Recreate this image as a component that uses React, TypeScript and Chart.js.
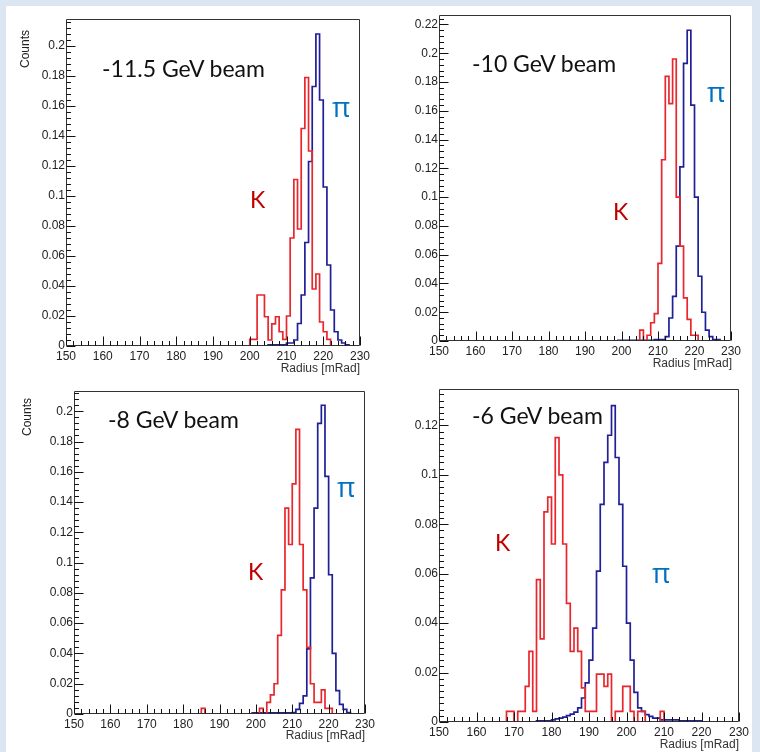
import React, { useEffect, useRef } from "react";
import { Chart, registerables } from "chart.js";

Chart.register(...registerables);

// Radius axis [mRad]: 1 mRad bins from 150 to 230
const X_MIN = 150;
const X_MAX = 230;
const X_MAJOR = 10;
const X_MINOR = 2;
const Y_MAJOR = 0.02;

// -11.5 GeV beam
const k115Start = 200;
const k115 = [0.0044, 0.0044, 0.034, 0.034, 0.0195, 0.004, 0.0147, 0.0195, 0.0095, 0.0044, 0.02, 0.072, 0.111, 0.078, 0.145, 0.179, 0.13, 0.038, 0.048, 0.016, 0.0095, 0.0044];
const pi115Start = 205;
const pi115 = [0.0007, 0.0007, 0.0007, 0.0007, 0.0007, 0.002, 0.002, 0.004, 0.015, 0.034, 0.069, 0.123, 0.173, 0.208, 0.164, 0.106, 0.054, 0.024, 0.0095, 0.004, 0.002, 0.0007];

// -10 GeV beam
const k10Start = 205;
const k10 = [0.0076, 0, 0.004, 0.0127, 0.019, 0.054, 0.126, 0.184, 0.165, 0.196, 0.1, 0.066, 0.03, 0.015, 0.004, 0.004];
const pi10Start = 199;
const pi10 = [0.0005, 0.0005, 0.0005, 0.0005, 0.0005, 0.0005, 0.0005, 0.0005, 0.0005, 0.0005, 0.001, 0.001, 0.001, 0.003, 0.016, 0.031, 0.066, 0.121, 0.193, 0.216, 0.164, 0.1, 0.045, 0.02, 0.0076, 0.003, 0.001, 0.001];

// -8 GeV beam
const k8Start = 185;
const k8 = [0.0037, 0, 0, 0, 0, 0, 0, 0, 0, 0, 0, 0, 0, 0, 0, 0, 0.0037, 0, 0.0077, 0.0126, 0.02, 0.052, 0.082, 0.136, 0.112, 0.152, 0.188, 0.112, 0.082, 0.044, 0.02, 0.0077, 0.0077, 0.016, 0.0037, 0.0037];
const pi8Start = 199;
const pi8 = [0.0007, 0.0007, 0.0007, 0.0007, 0.0007, 0.0007, 0.0007, 0.0007, 0.0007, 0.0007, 0.0007, 0.001, 0.003, 0.007, 0.012, 0.043, 0.09, 0.136, 0.192, 0.204, 0.157, 0.092, 0.04, 0.0154, 0.0064, 0.003, 0.001];

// -6 GeV beam
const k6Start = 168;
const k6 = [0.0043, 0.0043, 0, 0.0043, 0.0043, 0.0144, 0.0286, 0.0043, 0.0576, 0.0336, 0.085, 0.091, 0.072, 0.115, 0.1, 0.072, 0.048, 0.0286, 0.038, 0.0286, 0.0138, 0.0043, 0.0043, 0.0043, 0.0194, 0.0194, 0.0144, 0.0194, 0, 0.0043, 0.0043, 0.0144, 0.0144, 0.0043, 0, 0.0043, 0.0043, 0, 0, 0, 0, 0.0043];
const pi6Start = 176;
const pi6 = [0.0005, 0.0005, 0.0005, 0.0005, 0.0009, 0.0013, 0.0016, 0.002, 0.0026, 0.0032, 0.004, 0.0057, 0.0097, 0.0158, 0.025, 0.038, 0.061, 0.088, 0.105, 0.116, 0.128, 0.107, 0.088, 0.063, 0.04, 0.025, 0.012, 0.0057, 0.0043, 0.003, 0.0023, 0.0016, 0.0016, 0.0009, 0.0009, 0.0009, 0.0009, 0.0009, 0.0005, 0.0005, 0.0005, 0.0005, 0.0005, 0.0005];

const RED = "#e8272d";
const BLUE = "#1f1f98";
const TICK_FONT = { family: "'Liberation Sans', Arial, sans-serif", size: 12 };

type PanelSpec = {
  frame: [number, number, number, number];
  yMax: number;
  yMinor: number;
  kStart: number;
  k: number[];
  piStart: number;
  pi: number[];
};

const panels: PanelSpec[] = [
  { frame: [66, 19, 360, 346], yMax: 0.218, yMinor: 0.004, kStart: k115Start, k: k115, piStart: pi115Start, pi: pi115 },
  { frame: [439, 15, 731, 341], yMax: 0.2266, yMinor: 0.004, kStart: k10Start, k: k10, piStart: pi10Start, pi: pi10 },
  { frame: [74, 391, 365, 714], yMax: 0.2134, yMinor: 0.004, kStart: k8Start, k: k8, piStart: pi8Start, pi: pi8 },
  { frame: [439, 389, 739, 722], yMax: 0.1347, yMinor: 0.0025, kStart: k6Start, k: k6, piStart: pi6Start, pi: pi6 },
];

function histPoints(start: number, counts: number[]) {
  const pts = [{ x: start, y: 0 }];
  counts.forEach((c, i) => pts.push({ x: start + i, y: c }));
  pts.push({ x: start + counts.length, y: 0 });
  return pts;
}

const Y_W = 50;
const PAD_T = 14;
const PAD_R = 20;
const X_H = 22;

const frameTicks = {
  id: "frameTicks",
  afterDatasetsDraw(chart: any, _args: any, opts: any) {
    const { ctx, chartArea: a } = chart;
    const xs = chart.scales.x;
    const ys = chart.scales.y;
    ctx.save();
    ctx.strokeStyle = "#333";
    ctx.lineWidth = 1;
    const L = Math.round(a.left) + 0.5;
    const T = Math.round(a.top) + 0.5;
    const R = Math.round(a.right) - 0.5;
    const B = Math.round(a.bottom) - 0.5;
    ctx.beginPath();
    ctx.moveTo(L, T);
    ctx.lineTo(R, T);
    ctx.lineTo(R, B);
    ctx.lineTo(L, B);
    ctx.closePath();
    ctx.stroke();
    ctx.strokeStyle = "#111";
    ctx.beginPath();
    const nx = Math.round((X_MAX - X_MIN) / X_MINOR);
    for (let i = 0; i <= nx; i++) {
      const v = X_MIN + i * X_MINOR;
      const major = Math.abs(v / X_MAJOR - Math.round(v / X_MAJOR)) < 1e-6;
      const px = Math.round(xs.getPixelForValue(v)) + 0.5;
      ctx.moveTo(px, B);
      ctx.lineTo(px, B - (major ? 9 : 4.5));
    }
    const ny = Math.floor(ys.max / opts.yMinor + 1e-6);
    for (let i = 0; i <= ny; i++) {
      const v = i * opts.yMinor;
      const major = Math.abs(v / Y_MAJOR - Math.round(v / Y_MAJOR)) < 1e-6;
      const py = Math.round(ys.getPixelForValue(v)) + 0.5;
      ctx.moveTo(L, py);
      ctx.lineTo(L + (major ? 9 : 4.5), py);
    }
    ctx.stroke();
    ctx.restore();
  },
};

function Panel({ spec }: { spec: PanelSpec }) {
  const ref = useRef<HTMLCanvasElement>(null);
  const [L, T, R, B] = spec.frame;
  const w = R - L + Y_W + PAD_R;
  const h = B - T + PAD_T + X_H;
  useEffect(() => {
    const chart = new Chart(ref.current as HTMLCanvasElement, {
      type: "line",
      data: {
        datasets: [
          { data: histPoints(spec.kStart, spec.k), borderColor: RED, borderWidth: 1.7, stepped: "before", pointRadius: 0, fill: false },
          { data: histPoints(spec.piStart, spec.pi), borderColor: BLUE, borderWidth: 1.7, stepped: "before", pointRadius: 0, fill: false },
        ],
      } as any,
      options: {
        animation: false,
        responsive: false,
        events: [],
        layout: { padding: { left: 0, top: PAD_T, right: PAD_R, bottom: 0 }, autoPadding: false } as any,
        plugins: { legend: { display: false }, tooltip: { enabled: false }, frameTicks: { yMinor: spec.yMinor } } as any,
        scales: {
          x: {
            type: "linear",
            min: X_MIN,
            max: X_MAX,
            grid: { display: false, drawTicks: false },
            border: { display: false },
            ticks: { stepSize: X_MAJOR, autoSkip: false, maxRotation: 0, minRotation: 0, padding: 3, color: "#222", font: TICK_FONT, includeBounds: false },
            afterFit: (s: any) => { s.height = X_H; },
          },
          y: {
            type: "linear",
            min: 0,
            max: spec.yMax,
            grid: { display: false, drawTicks: false },
            border: { display: false },
            ticks: {
              stepSize: Y_MAJOR,
              autoSkip: false,
              includeBounds: false,
              maxTicksLimit: 100,
              padding: 1,
              color: "#222",
              font: TICK_FONT,
              callback: (v: any) => {
                const n = Number(v);
                return Math.abs(n) < 1e-9 ? "0" : String(parseFloat(n.toFixed(3)));
              },
            },
            afterFit: (s: any) => { s.width = Y_W; },
          },
        } as any,
      },
      plugins: [frameTicks],
    });
    return () => chart.destroy();
  }, []);
  return (
    <canvas
      ref={ref}
      width={w}
      height={h}
      style={{ position: "absolute", left: L - Y_W, top: T - PAD_T, width: w, height: h }}
    />
  );
}

const titleStyle = (left: number, top: number): React.CSSProperties => ({
  position: "absolute", left, top, fontFamily: "Lato, 'Open Sans', sans-serif", fontSize: 23, lineHeight: "23px", color: "#111", whiteSpace: "nowrap",
});
const kStyle = (left: number, top: number): React.CSSProperties => ({
  position: "absolute", left, top, fontFamily: "Lato, 'Open Sans', sans-serif", fontSize: 23, lineHeight: "23px", color: "#c00000",
});
const piStyle = (left: number, top: number): React.CSSProperties => ({
  position: "absolute", left, top, fontFamily: "'Open Sans', 'Noto Sans', sans-serif", fontSize: 28, lineHeight: "28px", color: "#0070c0",
});
const axisStyle = (right: number, top: number): React.CSSProperties => ({
  position: "absolute", right: 760 - right, top, fontFamily: "'Liberation Sans', Arial, sans-serif", fontSize: 12, lineHeight: "12px", color: "#333", whiteSpace: "nowrap",
});
const countsStyle = (cx: number, cy: number): React.CSSProperties => ({
  position: "absolute", left: cx, top: cy, transform: "translate(-50%, -50%) rotate(-90deg)", fontFamily: "'Liberation Sans', Arial, sans-serif", fontSize: 12, lineHeight: "12px", color: "#222", whiteSpace: "nowrap",
});

export default function App() {
  return (
    <div style={{ position: "absolute", left: 0, top: 0, width: 760, height: 752, background: "#dce6f2", overflow: "hidden" }}>
      <div style={{ position: "absolute", left: 6, top: 6, width: 746, height: 746, background: "#fff" }} />
      {panels.map((p, i) => <Panel key={i} spec={p} />)}
      <span style={titleStyle(102, 57)}>-11.5 GeV beam</span>
      <span style={titleStyle(472, 52)}>-10 GeV beam</span>
      <span style={titleStyle(108, 408)}>-8 GeV beam</span>
      <span style={titleStyle(472, 404)}>-6 GeV beam</span>
      <span style={kStyle(250, 188)}>K</span>
      <span style={kStyle(613, 200)}>K</span>
      <span style={kStyle(248, 560)}>K</span>
      <span style={kStyle(495, 531)}>K</span>
      <span style={piStyle(332, 92)}>π</span>
      <span style={piStyle(707, 77)}>π</span>
      <span style={piStyle(337, 472)}>π</span>
      <span style={piStyle(652, 558)}>π</span>
      <span style={countsStyle(25, 49)}>Counts</span>
      <span style={countsStyle(27, 417)}>Counts</span>
      <span style={axisStyle(360, 362)}>Radius [mRad]</span>
      <span style={axisStyle(732, 357)}>Radius [mRad]</span>
      <span style={axisStyle(365, 729)}>Radius [mRad]</span>
      <span style={axisStyle(739, 738)}>Radius [mRad]</span>
    </div>
  );
}
